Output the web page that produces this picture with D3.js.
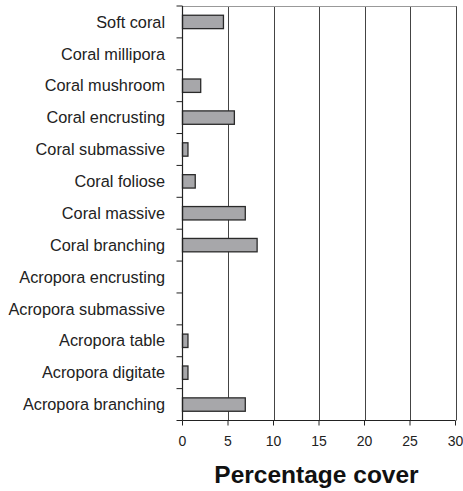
<!DOCTYPE html>
<html>
<head>
<meta charset="utf-8">
<script src="https://cdn.jsdelivr.net/npm/d3@7"></script>
<style>
  body { margin: 0; background: #fff; }
  svg { display: block; font-family: "Liberation Sans", Arial, sans-serif; }
</style>
</head>
<body>
<svg id="chart" width="463" height="491"></svg>
<script>
const categories = [
  "Soft coral", "Coral millipora", "Coral mushroom", "Coral encrusting",
  "Coral submassive", "Coral foliose", "Coral massive", "Coral branching",
  "Acropora encrusting", "Acropora submassive", "Acropora table",
  "Acropora digitate", "Acropora branching"
];
const values = [4.5, 0, 2.0, 5.7, 0.6, 1.4, 6.9, 8.2, 0, 0, 0.6, 0.6, 6.9];
const xTicks = [0, 5, 10, 15, 20, 25, 30];
const xTitle = "Percentage cover";

const svg = d3.select("#chart");
const mLeft = 182.5, mRight = 455.5, mTop = 6, mBottom = 420.5;

const x = d3.scaleLinear().domain([0, 30]).range([mLeft, mRight]);
const y = d3.scaleBand().domain(categories).range([mTop, mBottom]).paddingInner(0.58).paddingOuter(0.29);
const yb = d3.scaleBand().domain(categories).range([mTop, mBottom]);

// grid lines
svg.append("g").selectAll("line").data(xTicks.slice(1)).join("line")
  .attr("x1", d => Math.round(x(d)) + 0.5).attr("x2", d => Math.round(x(d)) + 0.5)
  .attr("y1", mTop).attr("y2", mBottom)
  .attr("stroke", "#444").attr("stroke-width", 1);

// top border
svg.append("line").attr("x1", mLeft).attr("x2", Math.round(mRight) + 0.5)
  .attr("y1", mTop + 0.5).attr("y2", mTop + 0.5).attr("stroke", "#999").attr("stroke-width", 1);

// bars
svg.append("g").selectAll("rect").data(categories.map((c, i) => ({c, v: values[i]})).filter(d => d.v > 0)).join("rect")
  .attr("x", x(0))
  .attr("y", d => y(d.c))
  .attr("width", d => x(d.v) - x(0))
  .attr("height", y.bandwidth())
  .attr("fill", "#a7a7aa")
  .attr("stroke", "#2a2a2a")
  .attr("stroke-width", 1.3);

// y axis
const yAxisG = svg.append("g");
yAxisG.append("line").attr("x1", mLeft).attr("x2", mLeft).attr("y1", mTop).attr("y2", mBottom)
  .attr("stroke", "#222").attr("stroke-width", 1.2);
const yTickPos = categories.map(c => yb(c)).concat([mBottom]);
yAxisG.selectAll("line.t").data(yTickPos).join("line").attr("class", "t")
  .attr("x1", mLeft - 6).attr("x2", mLeft).attr("y1", d => d).attr("y2", d => d)
  .attr("stroke", "#222").attr("stroke-width", 1);
yAxisG.selectAll("text").data(categories).join("text")
  .attr("x", 165).attr("y", d => yb(d) + yb.bandwidth() / 2)
  .attr("dy", "0.35em").attr("text-anchor", "end")
  .attr("font-size", 16.3).attr("fill", "#222")
  .text(d => d);

// x axis
const xAxisG = svg.append("g");
xAxisG.append("line").attr("x1", mLeft).attr("x2", mRight).attr("y1", mBottom).attr("y2", mBottom)
  .attr("stroke", "#222").attr("stroke-width", 1.2);
xAxisG.selectAll("line.t").data(xTicks).join("line").attr("class", "t")
  .attr("x1", d => x(d)).attr("x2", d => x(d)).attr("y1", mBottom).attr("y2", mBottom + 5)
  .attr("stroke", "#222").attr("stroke-width", 1);
xAxisG.selectAll("text").data(xTicks).join("text")
  .attr("x", d => x(d)).attr("y", 441).attr("dy", "0.35em")
  .attr("text-anchor", "middle").attr("font-size", 14).attr("fill", "#222")
  .text(d => d);

svg.append("text").attr("x", 316.5).attr("y", 483)
  .attr("text-anchor", "middle").attr("font-size", 24.5).attr("font-weight", "bold").attr("fill", "#111")
  .text(xTitle);
</script>
</body>
</html>
